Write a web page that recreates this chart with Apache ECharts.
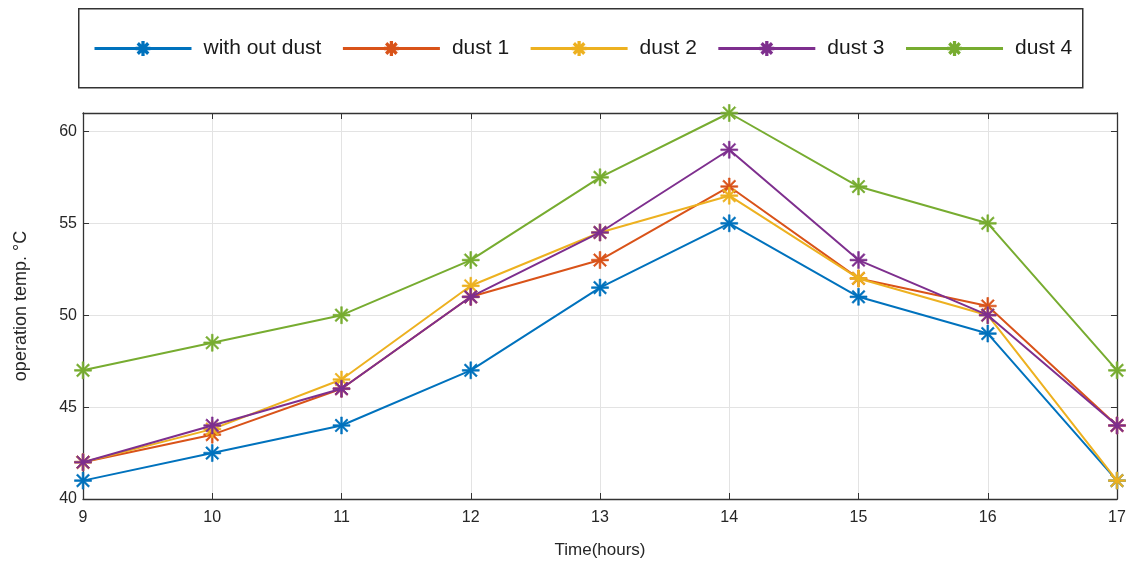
<!DOCTYPE html>
<html>
<head>
<meta charset="utf-8">
<script src="https://cdn.jsdelivr.net/npm/echarts@6/dist/echarts.min.js"></script>
<style>html,body{margin:0;padding:0;background:#fff}#c{width:1132px;height:565px}</style>
</head>
<body>
<div id="c"></div>
<script>
const hours = [9, 10, 11, 12, 13, 14, 15, 16, 17];
const seriesNames = ['with out dust', 'dust 1', 'dust 2', 'dust 3', 'dust 4'];
const withoutDust = [41, 42.5, 44, 47, 51.5, 55, 51, 49, 41];
const dust1 = [42, 43.5, 46, 51, 53, 57, 52, 50.5, 44];
const dust2 = [42, 43.8, 46.5, 51.6, 54.5, 56.5, 52, 50, 41];
const dust3 = [42, 44, 46, 51, 54.5, 59, 53, 50, 44];
const dust4 = [47, 48.5, 50, 53, 57.5, 61, 57, 55, 47];
const yTicks = [40, 45, 50, 55, 60];
const colors = ['#0072BD', '#D95319', '#EDB120', '#7E2F8E', '#77AC30'];

const star = 'path://M-10 -1L10 -1L10 1L-10 1Z M-1 -10L1 -10L1 10L-1 10Z M-6.36 -7.78L7.78 6.36L6.36 7.78L-7.78 -6.36Z M-7.78 6.36L6.36 -7.78L7.78 -6.36L-6.36 7.78Z';

const allData = [withoutDust, dust1, dust2, dust3, dust4];
const font = 'Liberation Sans, Arial, sans-serif';

const chart = echarts.init(document.getElementById('c'));
chart.setOption({
  animation: false,
  color: colors,
  grid: {left: 83, right: 15, top: 113, bottom: 66, containLabel: false},
  graphic: [{
    type: 'rect', left: 78, top: 8,
    shape: {width: 1004, height: 79},
    style: {fill: '#fff', stroke: '#333', lineWidth: 1.5},
    z: -1
  }],
  legend: {
    left: 88, top: 33,
    itemWidth: 97, itemHeight: 16, itemGap: 20,
    lineStyle: {width: 3},
    textStyle: {fontFamily: font, fontSize: 21, color: '#1a1a1a', padding: [0, 0, 0, 7]},
    data: seriesNames
  },
  xAxis: [{
    type: 'value', min: 9, max: 17, interval: 1,
    name: 'Time(hours)', nameLocation: 'middle', nameGap: 43,
    nameTextStyle: {fontFamily: font, fontSize: 17, color: '#262626'},
    axisLine: {lineStyle: {color: '#333', width: 1.3}},
    axisTick: {inside: true, length: 6, lineStyle: {color: '#333'}},
    axisLabel: {fontFamily: font, fontSize: 16, color: '#262626', margin: 11},
    splitLine: {show: true, lineStyle: {color: '#e3e3e3', width: 1}}
  }, {
    type: 'value', min: 9, max: 17, interval: 1, position: 'top',
    axisLine: {show: true, lineStyle: {color: '#333', width: 1.3}},
    axisTick: {inside: true, length: 6, lineStyle: {color: '#333'}},
    axisLabel: {show: false}, splitLine: {show: false}
  }],
  yAxis: [{
    type: 'value', min: 40, max: 61, interval: 5,
    name: 'operation temp. °C', nameLocation: 'middle', nameGap: 53,
    nameTextStyle: {fontFamily: font, fontSize: 18, color: '#262626'},
    axisLine: {show: true, lineStyle: {color: '#333', width: 1.3}},
    axisTick: {inside: true, length: 6, customValues: yTicks, lineStyle: {color: '#333'}},
    axisLabel: {fontFamily: font, fontSize: 16, color: '#262626', margin: 6, customValues: yTicks},
    splitLine: {show: true, lineStyle: {color: '#e3e3e3', width: 1}}
  }, {
    type: 'value', min: 40, max: 61, interval: 5, position: 'right',
    axisLine: {show: true, lineStyle: {color: '#333', width: 1.3}},
    axisTick: {inside: true, length: 6, customValues: yTicks, lineStyle: {color: '#333'}},
    axisLabel: {show: false}, splitLine: {show: false}
  }],
  series: seriesNames.map((n, i) => ({
    name: n, type: 'line',
    data: hours.map((h, j) => [h, allData[i][j]]),
    symbol: star, symbolSize: 17, showSymbol: true,
    lineStyle: {width: 2, color: colors[i]},
    itemStyle: {color: colors[i], borderColor: colors[i], borderWidth: 0.6},
    z: 2 + i
  }))
});
</script>
</body>
</html>
